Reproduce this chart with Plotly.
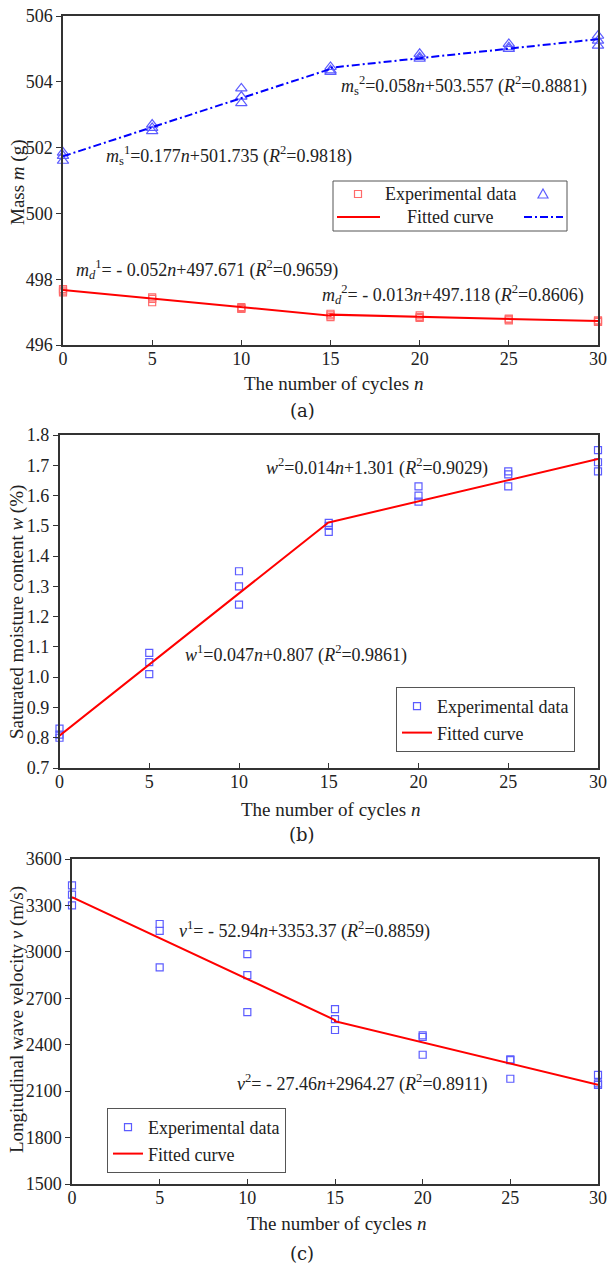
import plotly.graph_objects as go

# ---------------- data ----------------
cycles = [0, 5, 10, 15, 20, 25, 30]

# (a) saturated mass m_s (g), three specimens per cycle
mass_sat = [[501.85, 501.75, 501.60],
            [502.70, 502.60, 502.50],
            [503.80, 503.55, 503.35],
            [504.45, 504.35, 504.30],
            [504.85, 504.75, 504.70],
            [505.15, 505.05, 505.00],
            [505.40, 505.25, 505.10]]
# (a) dry mass m_d (g)
mass_dry = [[497.70, 497.65, 497.60],
            [497.45, 497.40, 497.30],
            [497.15, 497.12, 497.10],
            [496.95, 496.90, 496.85],
            [496.90, 496.85, 496.82],
            [496.80, 496.78, 496.75],
            [496.75, 496.72, 496.70]]
# (b) saturated moisture content w (%)
moisture = [[0.83, 0.81, 0.80],
            [1.08, 1.05, 1.01],
            [1.35, 1.30, 1.24],
            [1.51, 1.50, 1.48],
            [1.63, 1.60, 1.58],
            [1.68, 1.67, 1.63],
            [1.75, 1.71, 1.68]]
# (c) longitudinal wave velocity v (m/s)
velocity = [[3430, 3370, 3300],
            [3180, 3135, 2900],
            [2985, 2850, 2610],
            [2630, 2565, 2495],
            [2460, 2450, 2335],
            [2305, 2300, 2180],
            [2205, 2150, 2140]]

# piecewise linear fits: (slope, intercept, n_start, n_end)
fit_ms = [(0.177, 501.735, 0, 15), (0.058, 503.557, 15, 30)]
fit_md = [(-0.052, 497.671, 0, 15), (-0.013, 497.118, 15, 30)]
fit_w = [(0.047, 0.807, 0, 15), (0.014, 1.301, 15, 30)]
fit_v = [(-52.94, 3353.37, 0, 15), (-27.46, 2964.27, 15, 30)]

x_title = "The number of cycles <i>n</i>"
y_titles = ["Mass <i>m</i> (g)",
            "Saturated moisture content <i>w</i> (%)",
            "Longitudinal wave velocity <i>v</i> (m/s)"]
panel_labels = ["(a)", "(b)", "(c)"]

# ---------------- helpers ----------------
W, H = 609, 1266
FONT = "Liberation Serif"


def px(x):
    return x / W


def py(y):
    return 1 - y / H


def flatten(vals):
    xs, ys = [], []
    for n, row in zip(cycles, vals):
        for v in row:
            xs.append(n)
            ys.append(v)
    return xs, ys


def fit_line(fits):
    xs, ys = [], []
    for a, b, n0, n1 in fits:
        xs += [n0, n1]
        ys += [a * n0 + b, a * n1 + b]
    return xs, ys


RED = "#FF0000"
RED_M = "#FF6A6A"
BLUE = "#0000FF"
BLUE_M = "#5C5CFF"
AX = "#333333"
TXT = "#222222"
DASHDOT = "8px,3px,2px,3px"

fig = go.Figure()

# ---- panel (a)
x, y = flatten(mass_dry)
fig.add_trace(go.Scatter(x=x, y=y, mode="markers", xaxis="x", yaxis="y",
                         marker=dict(symbol="square-open", size=7, color=RED_M, line=dict(width=1.2)),
                         showlegend=False, cliponaxis=False, name="Experimental data"))
x, y = flatten(mass_sat)
fig.add_trace(go.Scatter(x=x, y=y, mode="markers", xaxis="x", yaxis="y",
                         marker=dict(symbol="triangle-up-open", size=10, color=BLUE_M, line=dict(width=1.2)),
                         showlegend=False, cliponaxis=False, name="Experimental data"))
x, y = fit_line(fit_md)
fig.add_trace(go.Scatter(x=x, y=y, mode="lines", xaxis="x", yaxis="y",
                         line=dict(color=RED, width=2), showlegend=False, cliponaxis=False,
                         name="Fitted curve"))
x, y = fit_line(fit_ms)
fig.add_trace(go.Scatter(x=x, y=y, mode="lines", xaxis="x", yaxis="y",
                         line=dict(color=BLUE, width=2, dash=DASHDOT), showlegend=False,
                         cliponaxis=False, name="Fitted curve"))

# ---- panel (b)
x, y = flatten(moisture)
fig.add_trace(go.Scatter(x=x, y=y, mode="markers", xaxis="x2", yaxis="y2",
                         marker=dict(symbol="square-open", size=7, color=BLUE_M, line=dict(width=1.2)),
                         name="Experimental data", legend="legend", cliponaxis=False))
x, y = fit_line(fit_w)
fig.add_trace(go.Scatter(x=x, y=y, mode="lines", xaxis="x2", yaxis="y2",
                         line=dict(color=RED, width=2), name="Fitted curve", legend="legend",
                         cliponaxis=False))

# ---- panel (c)
x, y = flatten(velocity)
fig.add_trace(go.Scatter(x=x, y=y, mode="markers", xaxis="x3", yaxis="y3",
                         marker=dict(symbol="square-open", size=7, color=BLUE_M, line=dict(width=1.2)),
                         name="Experimental data", legend="legend2", cliponaxis=False))
x, y = fit_line(fit_v)
fig.add_trace(go.Scatter(x=x, y=y, mode="lines", xaxis="x3", yaxis="y3",
                         line=dict(color=RED, width=2), name="Fitted curve", legend="legend2",
                         cliponaxis=False))

tickfont = dict(family=FONT, size=18, color=TXT)
titlefont = dict(family=FONT, size=19, color=TXT)


def xaxis(x0, x1, anchor):
    return dict(domain=[px(x0), px(x1)], anchor=anchor, range=[0, 30], dtick=5,
                showline=True, mirror=True, linecolor=AX, linewidth=1.5, ticks="inside",
                ticklen=5, tickcolor=AX, showgrid=False, zeroline=False, tickfont=tickfont,
                ticklabelstandoff=-3, automargin=False)


def yaxis(y0, y1, anchor, rng, dtick, fmt=None):
    d = dict(domain=[py(y1), py(y0)], anchor=anchor, range=rng, dtick=dtick,
             showline=True, mirror=True, linecolor=AX, linewidth=1.5, ticks="outside",
             ticklen=5, tickcolor=AX, showgrid=False, zeroline=False, tickfont=tickfont,
             automargin=False)
    if fmt:
        d["tickformat"] = fmt
    return d


legfont = dict(family=FONT, size=18, color=TXT)
fig.update_layout(
    width=W, height=H, margin=dict(l=0, r=0, t=0, b=0, autoexpand=False),
    paper_bgcolor="white", plot_bgcolor="white",
    xaxis=xaxis(63, 598, "y"),
    yaxis=yaxis(16, 345, "x", [496, 506], 2),
    xaxis2=xaxis(59.5, 598, "y2"),
    yaxis2=yaxis(435, 768, "x2", [0.7, 1.8], 0.1, ".1f"),
    xaxis3=xaxis(72, 598, "y3"),
    yaxis3=yaxis(859, 1184, "x3", [1500, 3600], 300),
    legend=dict(x=px(396), y=py(687), xanchor="left", yanchor="top", bgcolor="white",
                bordercolor="#555555", borderwidth=1, font=legfont, tracegroupgap=0, itemwidth=30),
    legend2=dict(x=px(107), y=py(1108), xanchor="left", yanchor="top", bgcolor="white",
                 bordercolor="#555555", borderwidth=1, font=legfont, tracegroupgap=0, itemwidth=30),
)

# ---- axis titles (positioned text)
for (cx, cy) in [(333, 383), (330, 810), (336, 1223)]:
    fig.add_annotation(x=px(cx), y=py(cy), xref="paper", yref="paper", text=x_title,
                       showarrow=False, xanchor="center", yanchor="middle", font=titlefont)
for t, (cx, cy) in zip(y_titles, [(18, 182), (17, 612), (17, 1020)]):
    fig.add_annotation(x=px(cx), y=py(cy), xref="paper", yref="paper", text=t, textangle=-90,
                       showarrow=False, xanchor="center", yanchor="middle", font=titlefont)

# ---- equation annotations (data coordinates)
eqfont = dict(family=FONT, size=18, color=TXT)
eqs = [
    ("x", "y", 15.5, 503.9, "<i>m</i><sub>s</sub><sup>2</sup>=0.058<i>n</i>+503.557 (<i>R</i><sup>2</sup>=0.8881)"),
    ("x", "y", 2.3, 501.77, "<i>m</i><sub>s</sub><sup>1</sup>=0.177<i>n</i>+501.735 (<i>R</i><sup>2</sup>=0.9818)"),
    ("x", "y", 0.6, 498.28, "<i>m<sub>d</sub></i><sup>1</sup>= - 0.052<i>n</i>+497.671 (<i>R</i><sup>2</sup>=0.9659)"),
    ("x", "y", 14.4, 497.52, "<i>m<sub>d</sub></i><sup>2</sup>= - 0.013<i>n</i>+497.118 (<i>R</i><sup>2</sup>=0.8606)"),
    ("x2", "y2", 11.4, 1.695, "<i>w</i><sup>2</sup>=0.014<i>n</i>+1.301 (<i>R</i><sup>2</sup>=0.9029)"),
    ("x2", "y2", 6.9, 1.075, "<i>w</i><sup>1</sup>=0.047<i>n</i>+0.807 (<i>R</i><sup>2</sup>=0.9861)"),
    ("x3", "y3", 6.0, 3140, "<i>v</i><sup>1</sup>= - 52.94<i>n</i>+3353.37 (<i>R</i><sup>2</sup>=0.8859)"),
    ("x3", "y3", 9.3, 2150, "<i>v</i><sup>2</sup>= - 27.46<i>n</i>+2964.27 (<i>R</i><sup>2</sup>=0.8911)"),
]
for xr, yr, xv, yv, t in eqs:
    fig.add_annotation(x=xv, y=yv, xref=xr, yref=yr, text=t, showarrow=False,
                       xanchor="left", yanchor="middle", font=eqfont)

# ---- sub-figure labels
for lab, yy in zip(panel_labels, [410, 835, 1253]):
    fig.add_annotation(x=px(302), y=py(yy), xref="paper", yref="paper", text=lab, showarrow=False,
                       xanchor="center", yanchor="middle",
                       font=dict(family="DejaVu Serif", size=18, color=TXT))

# ---- custom legend for panel (a) (two symbol columns)
shapes = []
shapes.append(dict(type="rect", xref="paper", yref="paper", x0=px(333), x1=px(567), y0=py(231), y1=py(181),
                   line=dict(color="#555555", width=1), fillcolor="white", layer="above"))
shapes.append(dict(type="rect", xref="paper", yref="paper", x0=px(354.5), x1=px(361.5), y0=py(197.5),
                   y1=py(190.5), line=dict(color=RED_M, width=1.2), layer="above"))
tri = "M {} {} L {} {} L {} {} Z".format(px(543), py(189), px(548), py(198), px(538), py(198))
shapes.append(dict(type="path", xref="paper", yref="paper", path=tri,
                   line=dict(color=BLUE_M, width=1.2), layer="above"))
shapes.append(dict(type="line", xref="paper", yref="paper", x0=px(337), x1=px(380), y0=py(217), y1=py(217),
                   line=dict(color=RED, width=2), layer="above"))
shapes.append(dict(type="line", xref="paper", yref="paper", x0=px(524), x1=px(563), y0=py(217), y1=py(217),
                   line=dict(color=BLUE, width=2, dash=DASHDOT), layer="above"))
fig.update_layout(shapes=shapes)
for t, yy in [("Experimental data", 194), ("Fitted curve", 217)]:
    fig.add_annotation(x=px(450), y=py(yy), xref="paper", yref="paper", text=t, showarrow=False,
                       xanchor="center", yanchor="middle", font=legfont)

fig.write_html("out.html", config={"displayModeBar": False},
               post_script="document.body.style.margin='0';document.body.style.overflow='hidden';")
